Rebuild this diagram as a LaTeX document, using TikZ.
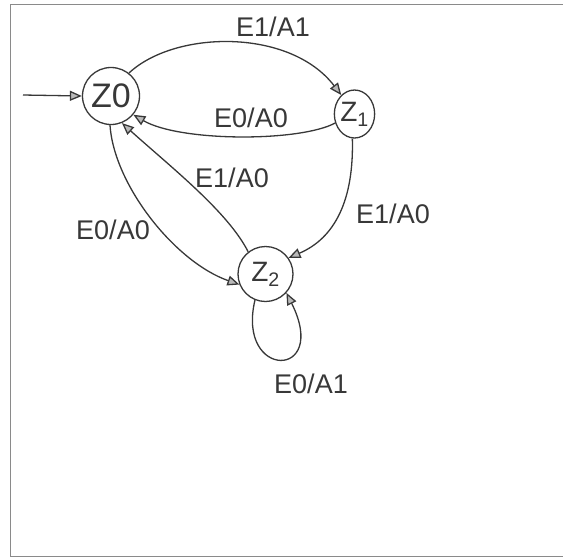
\documentclass[tikz,border=0pt]{standalone}
\usepackage{fontspec}
\setmainfont{Liberation Sans}
\usetikzlibrary{arrows.meta,shapes.geometric}
\definecolor{pen}{HTML}{383838}
\definecolor{frame}{HTML}{8A8A8A}
\tikzset{
  state/.style={draw=pen, line width=1.3pt, circle, inner sep=0pt, minimum size=57pt, text=pen},
  estate/.style={draw=pen, line width=1.3pt, ellipse, inner sep=0pt, minimum width=39pt, minimum height=48pt, text=pen},
  edge/.style={draw=pen, line width=1.3pt, -{Triangle[length=12pt,width=10pt,fill=gray!55]}},
  lbl/.style={text=pen, font=\fontsize{27}{30}\selectfont, inner sep=0pt},
  framestyle/.style={draw=frame, line width=1pt}
}
\begin{document}
\begin{tikzpicture}[x=1pt,y=-1pt]
  \useasboundingbox (0,0) rectangle (563,558);
  \draw[framestyle] (563,4) -- (10,4) -- (10,556) -- (563,556);

  \node[state, font=\fontsize{34}{36}\selectfont] (z0) at (111,96) {Z0};
  \node[estate, font=\fontsize{28}{30}\selectfont] (z1) at (354.5,114) {Z\textsubscript{1}};
  \node[state, minimum size=55pt, font=\fontsize{28}{30}\selectfont] (z2) at (265.5,274) {Z\textsubscript{2}};
  \coordinate (start) at (23,95);

  \draw[edge] (start) -- (z0.west);
  \draw[edge] (z0.52) .. controls (175,30) and (290,28) .. (z1.125);
  \draw[edge] (z1.205) .. controls (300,142) and (180,142) .. (z0.-40);
  \draw[edge] (z2.128) .. controls (228,212) and (172,168) .. (z0.-68);
  \draw[edge] (z0.-92) .. controls (114,185) and (175,262) .. (z2.202);
  \draw[edge] (z1.-95) .. controls (354,200) and (335,238) .. (z2.35);
  \draw[edge] (z2.-112) .. controls (236,380) and (330,380) .. (z2.-42);

  \node[lbl] (l01) at (273,27) {E1/A1};
  \node[lbl] (l10) at (251,118) {E0/A0};
  \node[lbl] (l20) at (232,178) {E1/A0};
  \node[lbl] (l02) at (113,230) {E0/A0};
  \node[lbl] (l12) at (393,214) {E1/A0};
  \node[lbl] (l22) at (311,384) {E0/A1};
\end{tikzpicture}
\end{document}
